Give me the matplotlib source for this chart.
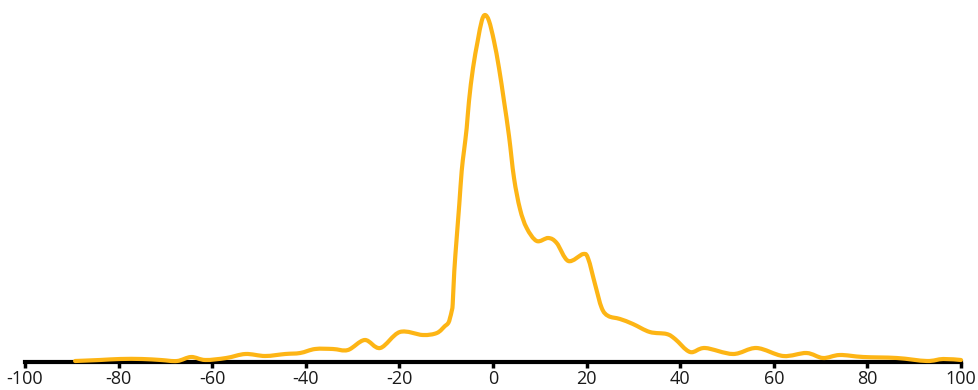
import matplotlib
matplotlib.use("Agg")
import matplotlib.pyplot as plt
from matplotlib.path import Path
from matplotlib.patches import PathPatch

# Density curve sampled along the x axis
x_vals = [-89.3, -84, -79.7, -75, -71, -67.5, -64.5, -61.5, -57, -52.9, -48.7, -44.4,
          -41.2, -38.0, -34.2, -31.0, -27.4, -24.1, -19.9, -15.0, -12.0, -10.26,
          -9.55, -9.19, -8.82, -8.61, -8.27, -7.76, -7.2, -6.69, -6.2, -5.62, -5.13,
          -4.27, -3.27, -2.41, -1.71, -0.85, 0.21, 1.28, 2.35, 3.42, 4.49,
          5.77, 7.2, 9.34, 11.82, 13.61, 16.09, 19.29, 20.36, 21.79, 23.23, 24.64,
          27.14, 29.9, 33.5, 37.1, 38.9, 42.1, 45.3, 51.3, 56.3, 62.0, 67.0, 70.5,
          74.1, 79.1, 86.3, 92.7, 96.2, 100]
y_vals = [1, 2, 3, 3, 2, 1, 5, 2, 4, 8, 6, 8,
          9, 13, 13, 12, 22, 14, 30, 27, 29, 36,
          39, 44, 51, 58, 91, 124, 158, 191, 211, 234, 261,
          294, 321, 341, 347, 341, 321, 294, 261, 226, 184,
          153, 134, 121, 124, 119, 101, 108, 103, 78, 54, 46,
          43, 38, 30, 28, 23, 10, 14, 8, 14, 6, 9, 4,
          7, 5, 4, 1, 3, 2]

tick_vals = [-100, -80, -60, -40, -20, 0, 20, 40, 60, 80, 100]
tick_labels = ["-100", "-80", "-60", "-40", "-20", "0", "20", "40", "60", "80", "100"]

plt.rcParams["font.family"] = ["Open Sans", "DejaVu Sans"]


def smooth_path(xs, ys, tension=1.0 / 6.0):
    """Cubic Bezier path passing through every sample (Catmull-Rom style)."""
    verts = [(xs[0], ys[0])]
    codes = [Path.MOVETO]
    n = len(xs)
    for i in range(n - 1):
        x0, y0 = (xs[i - 1], ys[i - 1]) if i > 0 else (xs[i], ys[i])
        x1, y1 = xs[i], ys[i]
        x2, y2 = xs[i + 1], ys[i + 1]
        x3, y3 = (xs[i + 2], ys[i + 2]) if i + 2 < n else (x2, y2)
        c1 = (x1 + (x2 - x0) * tension, y1 + (y2 - y0) * tension)
        c2 = (x2 - (x3 - x1) * tension, y2 - (y3 - y1) * tension)
        verts += [c1, c2, (x2, y2)]
        codes += [Path.CURVE4] * 3
    return Path(verts, codes)


fig = plt.figure(figsize=(9.79, 3.9), dpi=100)
ax = fig.add_axes([25 / 979, 28 / 390, 936 / 979, 362 / 390])

curve = PathPatch(smooth_path(x_vals, y_vals), facecolor="none",
                  edgecolor="#FDB515", lw=3.0, joinstyle="round",
                  capstyle="round", zorder=3, clip_on=False)
ax.add_patch(curve)

ax.set_xlim(-100, 100)
ax.set_ylim(0, 362)

for side in ("top", "right", "left"):
    ax.spines[side].set_visible(False)
ax.spines["bottom"].set_linewidth(3.0)
ax.spines["bottom"].set_color("black")
ax.spines["bottom"].set_capstyle("projecting")

ax.set_yticks([])
ax.set_xticks(tick_vals)
ax.set_xticklabels(tick_labels)
ax.tick_params(axis="x", direction="out", length=4, width=2.5, color="black",
               labelsize=13, pad=2, labelcolor="#1a1a1a")

fig.savefig("out.png", dpi=100, facecolor="white")
